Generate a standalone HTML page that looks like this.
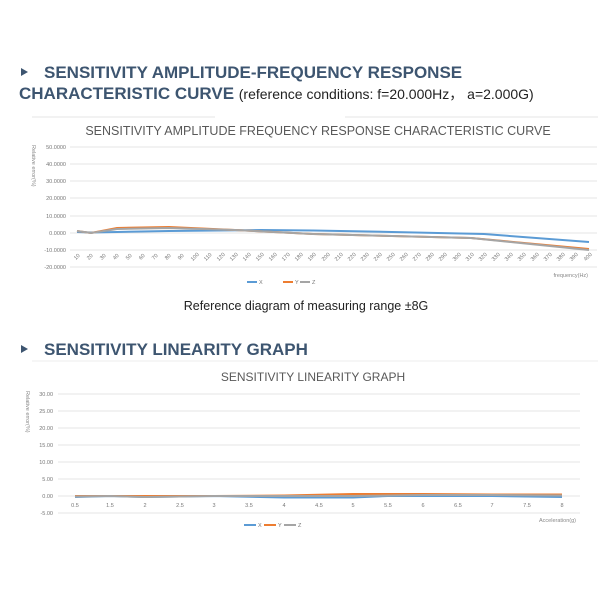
<!DOCTYPE html>
<html><head><meta charset="utf-8"><style>
html,body{margin:0;padding:0;background:#fff;width:600px;height:600px;overflow:hidden}
svg{display:block}
</style></head><body>
<svg width="600" height="600" viewBox="0 0 600 600" font-family="Liberation Sans, sans-serif">
<!-- Header 1 -->
<polygon points="21,68 21,76 28,72" fill="#3d5570"/>
<text x="44" y="78" font-size="17" font-weight="bold" fill="#3d5570">SENSITIVITY AMPLITUDE-FREQUENCY RESPONSE</text>
<text x="19" y="99" font-size="17" font-weight="bold" fill="#3d5570">CHARACTERISTIC CURVE <tspan font-weight="normal" font-size="14" fill="#222">(reference conditions: f=20.000Hz， a=2.000G)</tspan></text>
<line x1="32" y1="117" x2="215" y2="117" stroke="#e6e6e6"/>
<line x1="345" y1="117" x2="598" y2="117" stroke="#e6e6e6"/>
<text x="318" y="135" font-size="12.5" fill="#595959" text-anchor="middle">SENSITIVITY AMPLITUDE FREQUENCY RESPONSE CHARACTERISTIC CURVE</text>
<g stroke="#e4e4e4" stroke-width="1">
<line x1="70" y1="147" x2="597" y2="147"/><line x1="70" y1="164" x2="597" y2="164"/>
<line x1="70" y1="181" x2="597" y2="181"/><line x1="70" y1="198" x2="597" y2="198"/>
<line x1="70" y1="216" x2="597" y2="216"/><line x1="70" y1="233" x2="597" y2="233"/>
<line x1="70" y1="250" x2="597" y2="250"/><line x1="70" y1="267" x2="597" y2="267"/>
</g>
<g font-size="5.5" fill="#777" text-anchor="end">
<text x="66" y="149">50.0000</text><text x="66" y="166">40.0000</text><text x="66" y="183">30.0000</text>
<text x="66" y="200">20.0000</text><text x="66" y="218">10.0000</text><text x="66" y="235">0.0000</text>
<text x="66" y="252">-10.0000</text><text x="66" y="269">-20.0000</text>
</g>
<text transform="translate(32,145) rotate(90)" font-size="5.5" fill="#888">Relative error(%)</text>
<g font-size="5.5" fill="#777">
<text transform="translate(78,258) rotate(-45)" text-anchor="middle">10</text><text transform="translate(91,258) rotate(-45)" text-anchor="middle">20</text><text transform="translate(104,258) rotate(-45)" text-anchor="middle">30</text><text transform="translate(117,258) rotate(-45)" text-anchor="middle">40</text><text transform="translate(130,258) rotate(-45)" text-anchor="middle">50</text><text transform="translate(143,258) rotate(-45)" text-anchor="middle">60</text><text transform="translate(156,258) rotate(-45)" text-anchor="middle">70</text><text transform="translate(169,258) rotate(-45)" text-anchor="middle">80</text><text transform="translate(182,258) rotate(-45)" text-anchor="middle">90</text><text transform="translate(196,258) rotate(-45)" text-anchor="middle">100</text><text transform="translate(209,258) rotate(-45)" text-anchor="middle">110</text><text transform="translate(222,258) rotate(-45)" text-anchor="middle">120</text><text transform="translate(235,258) rotate(-45)" text-anchor="middle">130</text><text transform="translate(248,258) rotate(-45)" text-anchor="middle">140</text><text transform="translate(261,258) rotate(-45)" text-anchor="middle">150</text><text transform="translate(274,258) rotate(-45)" text-anchor="middle">160</text><text transform="translate(287,258) rotate(-45)" text-anchor="middle">170</text><text transform="translate(300,258) rotate(-45)" text-anchor="middle">180</text><text transform="translate(313,258) rotate(-45)" text-anchor="middle">190</text><text transform="translate(327,258) rotate(-45)" text-anchor="middle">200</text><text transform="translate(340,258) rotate(-45)" text-anchor="middle">210</text><text transform="translate(353,258) rotate(-45)" text-anchor="middle">220</text><text transform="translate(366,258) rotate(-45)" text-anchor="middle">230</text><text transform="translate(379,258) rotate(-45)" text-anchor="middle">240</text><text transform="translate(392,258) rotate(-45)" text-anchor="middle">250</text><text transform="translate(405,258) rotate(-45)" text-anchor="middle">260</text><text transform="translate(418,258) rotate(-45)" text-anchor="middle">270</text><text transform="translate(431,258) rotate(-45)" text-anchor="middle">280</text><text transform="translate(444,258) rotate(-45)" text-anchor="middle">290</text><text transform="translate(458,258) rotate(-45)" text-anchor="middle">300</text><text transform="translate(471,258) rotate(-45)" text-anchor="middle">310</text><text transform="translate(484,258) rotate(-45)" text-anchor="middle">320</text><text transform="translate(497,258) rotate(-45)" text-anchor="middle">330</text><text transform="translate(510,258) rotate(-45)" text-anchor="middle">340</text><text transform="translate(523,258) rotate(-45)" text-anchor="middle">350</text><text transform="translate(536,258) rotate(-45)" text-anchor="middle">360</text><text transform="translate(549,258) rotate(-45)" text-anchor="middle">370</text><text transform="translate(562,258) rotate(-45)" text-anchor="middle">380</text><text transform="translate(575,258) rotate(-45)" text-anchor="middle">390</text><text transform="translate(589,258) rotate(-45)" text-anchor="middle">400</text>
</g>
<text x="588" y="277" font-size="5.5" fill="#888" text-anchor="end">frequency(Hz)</text>
<polyline fill="none" stroke="#5b9bd5" stroke-width="2" points="77,232 91,232.5 117,232 169,231 261,230 313,230.5 392,232 484,234 589,242"/>
<polyline fill="none" stroke="#ed7d31" stroke-width="2" points="77,231 91,233 117,228 169,227 235,230 313,234 392,236 471,238 589,249"/>
<polyline fill="none" stroke="#a5a5a5" stroke-width="2" points="77,231 91,233 117,229 169,228 235,230 313,234 392,236 471,238 589,250"/>
<g font-size="5.5" fill="#777">
<line x1="247" y1="282" x2="257" y2="282" stroke="#5b9bd5" stroke-width="2"/><text x="259" y="284">X</text>
<line x1="283" y1="282" x2="293" y2="282" stroke="#ed7d31" stroke-width="2"/><text x="295" y="284">Y</text>
<line x1="300" y1="282" x2="310" y2="282" stroke="#a5a5a5" stroke-width="2"/><text x="312" y="284">Z</text>
</g>
<text x="306" y="310" font-size="12.5" fill="#222" text-anchor="middle">Reference diagram of measuring range ±8G</text>

<!-- Header 2 -->
<polygon points="21,345 21,353 28,349" fill="#3d5570"/>
<text x="44" y="355" font-size="17" font-weight="bold" fill="#3d5570">SENSITIVITY LINEARITY GRAPH</text>
<line x1="32" y1="361" x2="598" y2="361" stroke="#ececec"/>
<text x="313" y="381" font-size="12" fill="#595959" text-anchor="middle">SENSITIVITY LINEARITY GRAPH</text>
<g stroke="#e4e4e4">
<line x1="58" y1="394" x2="580" y2="394"/><line x1="58" y1="411" x2="580" y2="411"/>
<line x1="58" y1="428" x2="580" y2="428"/><line x1="58" y1="445" x2="580" y2="445"/>
<line x1="58" y1="462" x2="580" y2="462"/><line x1="58" y1="479" x2="580" y2="479"/>
<line x1="58" y1="496" x2="580" y2="496"/><line x1="58" y1="513" x2="580" y2="513"/>
</g>
<g font-size="5.5" fill="#777" text-anchor="end">
<text x="53" y="396">30.00</text><text x="53" y="413">25.00</text><text x="53" y="430">20.00</text>
<text x="53" y="447">15.00</text><text x="53" y="464">10.00</text><text x="53" y="481">5.00</text>
<text x="53" y="498">0.00</text><text x="53" y="515">-5.00</text>
</g>
<text transform="translate(26,391) rotate(90)" font-size="5.5" fill="#888">Relative error(%)</text>
<g font-size="5.5" fill="#777" text-anchor="middle">
<text x="75" y="507">0.5</text><text x="110" y="507">1.5</text><text x="145" y="507">2</text><text x="180" y="507">2.5</text><text x="214" y="507">3</text><text x="249" y="507">3.5</text><text x="284" y="507">4</text><text x="319" y="507">4.5</text><text x="353" y="507">5</text><text x="388" y="507">5.5</text><text x="423" y="507">6</text><text x="458" y="507">6.5</text><text x="492" y="507">7</text><text x="527" y="507">7.5</text><text x="562" y="507">8</text>
</g>
<text x="576" y="522" font-size="5.5" fill="#888" text-anchor="end">Acceleration(g)</text>
<polyline fill="none" stroke="#5b9bd5" stroke-width="2" points="75,497 110,496 145,497 214,496 284,497.5 353,497.5 388,496 423,496 492,496 562,497"/>
<polyline fill="none" stroke="#ed7d31" stroke-width="2" points="75,496 110,496 145,496 214,496 284,495.5 353,494 423,494 492,494.5 562,494.5"/>
<polyline fill="none" stroke="#a5a5a5" stroke-width="2" points="75,496.5 110,496 145,497 214,496 284,496 353,496 423,495 492,495 562,495.5"/>
<g font-size="5.5" fill="#777">
<line x1="244" y1="525" x2="256" y2="525" stroke="#5b9bd5" stroke-width="2"/><text x="258" y="527">X</text>
<line x1="264" y1="525" x2="276" y2="525" stroke="#ed7d31" stroke-width="2"/><text x="278" y="527">Y</text>
<line x1="284" y1="525" x2="296" y2="525" stroke="#a5a5a5" stroke-width="2"/><text x="298" y="527">Z</text>
</g>
</svg>
</body></html>
